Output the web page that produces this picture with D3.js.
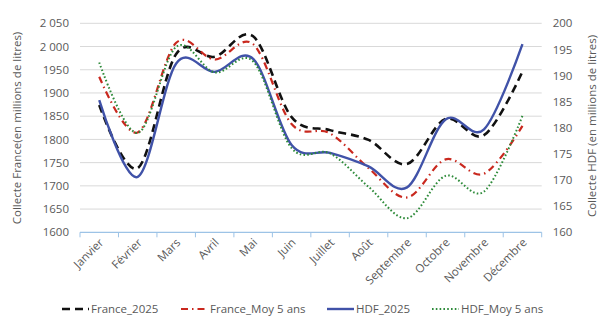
<!DOCTYPE html>
<html>
<head>
<meta charset="utf-8">
<script src="https://cdn.jsdelivr.net/npm/d3@7"></script>
<style>
  body { margin: 0; background: #fff; }
  text { font-family: "Open Sans", "DejaVu Sans", sans-serif; fill: #595959; }
</style>
</head>
<body>
<script>
var width = 605;
var height = 323;

var months = ["Janvier", "Février", "Mars", "Avril", "Mai", "Juin", "Juillet", "Août", "Septembre", "Octobre", "Novembre", "Décembre"];
var france2025 = [1874, 1738, 1984, 1978, 2022, 1848, 1820, 1799, 1747, 1844, 1809, 1946];
var franceMoy = [1935, 1815, 2008, 1972, 2005, 1833, 1813, 1738, 1675, 1757, 1726, 1829];
var hdf2025 = [185.3, 170.6, 192.3, 190.7, 193.2, 176.7, 175.2, 172.6, 168.6, 181.6, 179.7, 196.0];
var hdfMoy = [192.5, 179.0, 195.5, 190.6, 192.7, 176.1, 175.1, 168.7, 162.7, 170.8, 167.8, 182.3];
var leftTicks = [1600, 1650, 1700, 1750, 1800, 1850, 1900, 1950, 2000, 2050];
var rightTicks = [160, 165, 170, 175, 180, 185, 190, 195, 200];

var series = [
  { name: "France_2025", values: france2025, axis: "left", color: "#111111", width: 2.6, dash: "8,5" },
  { name: "France_Moy 5 ans", values: franceMoy, axis: "left", color: "#c9281e", width: 2.2, dash: "7,4,1.5,4" },
  { name: "HDF_2025", values: hdf2025, axis: "right", color: "#4052a8", width: 2.4, dash: null },
  { name: "HDF_Moy 5 ans", values: hdfMoy, axis: "right", color: "#2e8b3a", width: 2.0, dash: "1.6,2.2" }
];

var svg = d3.select("body").append("svg")
  .attr("width", width)
  .attr("height", height);

var x = d3.scaleBand().domain(months).range([80, 541.7]);
var yL = d3.scaleLinear().domain([1600, 2050]).range([232.3, 23.3]);
var yR = d3.scaleLinear().domain([160, 200]).range([232.3, 23.3]);

// French style: space as thousands separator from 2000 up (as in the chart)
var frFormat = function (d) {
  return d >= 2000 ? d3.format(",")(d).replace(",", "\u00a0") : "" + d;
};

// gridlines
svg.append("g")
  .selectAll("line")
  .data(leftTicks.slice(1))
  .enter().append("line")
  .attr("x1", 80).attr("x2", 541.7)
  .attr("y1", function (d) { return yL(d); })
  .attr("y2", function (d) { return yL(d); })
  .style("stroke", "#d9d9d9")
  .style("stroke-width", 1);

var leftAxis = svg.append("g")
  .attr("transform", "translate(80,0)")
  .call(d3.axisLeft(yL).tickValues(leftTicks).tickSize(0).tickPadding(11).tickFormat(frFormat));
leftAxis.select(".domain").remove();
leftAxis.selectAll("text").style("font-size", "11.5px").style("fill", "#595959");

var rightAxis = svg.append("g")
  .attr("transform", "translate(541.7,0)")
  .call(d3.axisRight(yR).tickValues(rightTicks).tickSize(0).tickPadding(11));
rightAxis.select(".domain").remove();
rightAxis.selectAll("text").style("font-size", "11.5px").style("fill", "#595959");

// x axis
var bottom = svg.append("g").attr("transform", "translate(0,232.3)");
bottom.append("line")
  .attr("x1", 80).attr("x2", 541.7)
  .style("stroke", "#9dc3e6").style("stroke-width", 1.2);
bottom.selectAll(".tick")
  .data(months.concat(["end"]))
  .enter().append("line")
  .attr("x1", function (d, i) { return 80 + i * x.step(); })
  .attr("x2", function (d, i) { return 80 + i * x.step(); })
  .attr("y1", 0).attr("y2", 5)
  .style("stroke", "#9dc3e6").style("stroke-width", 1);
bottom.selectAll(".lbl")
  .data(months)
  .enter().append("text")
  .attr("transform", function (d) {
    return "translate(" + (x(d) + x.bandwidth() / 2 + 5) + ",11) rotate(-45)";
  })
  .attr("text-anchor", "end")
  .style("font-size", "11.5px")
  .text(function (d) { return d; });

// axis titles
svg.append("text")
  .attr("transform", "translate(21,128) rotate(-90)")
  .attr("text-anchor", "middle")
  .style("font-size", "11.5px")
  .text("Collecte France(en millions de litres)");
svg.append("text")
  .attr("transform", "translate(596,126) rotate(-90)")
  .attr("text-anchor", "middle")
  .style("font-size", "11.5px")
  .text("Collecte HDF (en millions de litres)");

// lines
series.forEach(function (s) {
  var ys = s.axis === "left" ? yL : yR;
  var line = d3.line()
    .x(function (d, i) { return x(months[i]) + x.bandwidth() / 2; })
    .y(function (d) { return ys(d); })
    .curve(d3.curveCardinal);
  svg.append("path")
    .datum(s.values)
    .attr("d", line)
    .style("fill", "none")
    .style("stroke", s.color)
    .style("stroke-width", s.width)
    .style("stroke-dasharray", s.dash);
});

// legend
var legendX = [62, 181, 327, 432];
var legend = svg.selectAll(".legend")
  .data(series)
  .enter().append("g")
  .attr("transform", function (d, i) { return "translate(" + legendX[i] + ",309)"; });
legend.append("line")
  .attr("x1", 0).attr("x2", 27)
  .style("stroke", function (d) { return d.color; })
  .style("stroke-width", function (d) { return d.width; })
  .style("stroke-dasharray", function (d) { return d.dash; });
legend.append("text")
  .attr("x", 29)
  .attr("y", 4)
  .style("font-size", "11.5px")
  .text(function (d) { return d.name; });
</script>
</body>
</html>
